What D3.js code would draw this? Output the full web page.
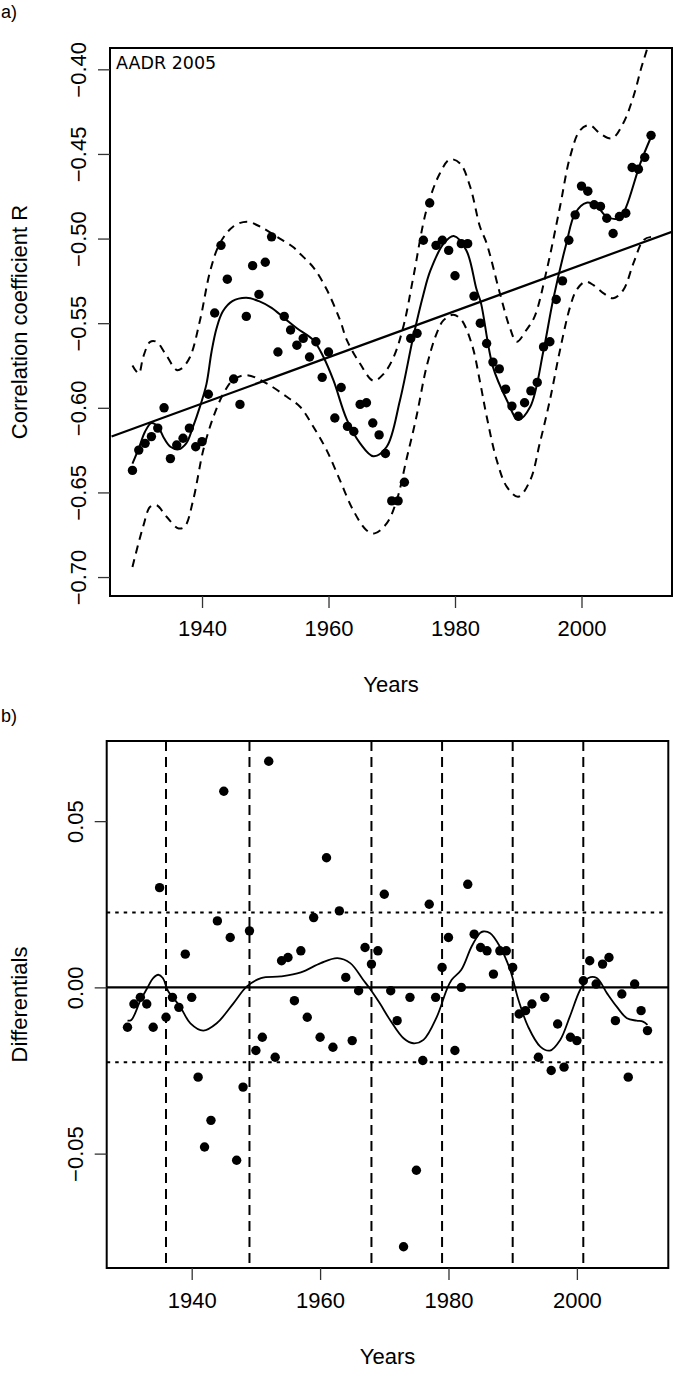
<!DOCTYPE html>
<html lang="en">
<head>
<meta charset="utf-8">
<script src="https://d3js.org/d3.v7.min.js"></script>
<style>
  body { margin: 0; background: #fff; }
  text { fill: #000; }
</style>
</head>
<body>
<script>
let w = 674, h = 1387;

// ---- panel a: correlation coefficient R per year (1929-2011)
let firstYearA = 1929;
let valuesA = [
  -0.637, -0.625, -0.621, -0.617, -0.612, -0.600, -0.630, -0.622, -0.618, -0.612,
  -0.623, -0.620, -0.592, -0.544, -0.504, -0.524, -0.583, -0.598, -0.546, -0.516,
  -0.533, -0.514, -0.499, -0.567, -0.546, -0.554, -0.563, -0.559, -0.570, -0.561,
  -0.582, -0.567, -0.606, -0.588, -0.611, -0.614, -0.598, -0.597, -0.609, -0.616,
  -0.627, -0.655, -0.655, -0.644, -0.559, -0.556, -0.501, -0.479, -0.504, -0.501,
  -0.507, -0.522, -0.503, -0.503, -0.534, -0.550, -0.562, -0.573, -0.577, -0.589,
  -0.599, -0.605, -0.597, -0.590, -0.585, -0.564, -0.561, -0.536, -0.525, -0.501,
  -0.486, -0.469, -0.472, -0.480, -0.481, -0.488, -0.497, -0.487, -0.485, -0.458,
  -0.459, -0.452, -0.439
];
let yearsA = valuesA.map((d, i) => firstYearA + i);

// smooth fit and its band
let fitYearsA = [1929, 1930, 1931, 1932, 1933, 1934, 1935, 1936.3, 1937.5, 1938.5, 1939.7, 1940.7, 1941.5, 1942.3, 1943.3, 1944.8, 1947, 1949, 1951, 1953, 1955, 1957.6, 1959.2, 1960.8, 1962.9, 1965, 1967.1, 1969.2, 1971.3, 1973.4, 1975, 1976.1, 1978.2, 1979.8, 1981.8, 1983.4, 1984.1, 1986, 1988.2, 1990, 1991.9, 1994, 1995.5, 1997.6, 1999, 2000.8, 2002.4, 2004, 2006.1, 2007.1, 2009.3, 2011];
let fitValuesA = [-0.633, -0.624, -0.614, -0.609, -0.611, -0.618, -0.623, -0.6245, -0.621, -0.612, -0.599, -0.586, -0.567, -0.553, -0.543, -0.537, -0.535, -0.537, -0.541, -0.547, -0.553, -0.560, -0.570, -0.584, -0.607, -0.621, -0.6286, -0.623, -0.5955, -0.558, -0.533, -0.519, -0.503, -0.4985, -0.507, -0.530, -0.538, -0.5758, -0.5955, -0.607, -0.5994, -0.566, -0.5364, -0.503, -0.485, -0.4788, -0.4808, -0.487, -0.488, -0.481, -0.4556, -0.440];

let upperYearsA = [1929, 1930, 1930.7, 1931.8, 1932.8, 1934.2, 1936, 1936.8, 1938.1, 1939.7, 1941.3, 1942.8, 1944.9, 1947.1, 1949.2, 1952.3, 1954.4, 1955.5, 1957.6, 1959.7, 1961.8, 1962.9, 1965, 1967.1, 1968.7, 1970.3, 1971.9, 1973.4, 1975.5, 1977.6, 1979.2, 1980.8, 1982.4, 1983.95, 1985, 1987.1, 1988.7, 1989.75, 1991.3, 1992.6, 1994.5, 1996.6, 1998.2, 1999.8, 2001.3, 2002.9, 2004.8, 2006.6, 2008.2, 2009.5, 2010.4, 2011];
let upperValuesA = [-0.575, -0.5797, -0.570, -0.561, -0.561, -0.568, -0.5777, -0.5767, -0.570, -0.548, -0.519, -0.503, -0.493, -0.490, -0.493, -0.500, -0.505, -0.509, -0.517, -0.530, -0.548, -0.560, -0.574, -0.584, -0.580, -0.570, -0.551, -0.523, -0.483, -0.4615, -0.4532, -0.4556, -0.4694, -0.493, -0.5028, -0.5324, -0.553, -0.561, -0.554, -0.546, -0.5186, -0.4812, -0.4516, -0.4359, -0.433, -0.4378, -0.4408, -0.4319, -0.4162, -0.3985, -0.3876, -0.378];

let lowerYearsA = [1929, 1930.7, 1931.8, 1932.8, 1934.4, 1936.3, 1937.3, 1938.6, 1940.2, 1941.8, 1943.4, 1944.9, 1947.1, 1950.2, 1953.4, 1955.5, 1957.6, 1959.7, 1961.8, 1963.9, 1966, 1967.3, 1969.2, 1970.8, 1972.3, 1973.9, 1975.5, 1977.1, 1978.2, 1979.7, 1981, 1982.7, 1983.95, 1985, 1986.6, 1988.2, 1990, 1991.9, 1993.4, 1995, 1996.6, 1998.2, 1999.2, 2000.6, 2001.9, 2003.5, 2005, 2006.6, 2008.2, 2009.8, 2011];
let lowerValuesA = [-0.694, -0.670, -0.6585, -0.6575, -0.6644, -0.6713, -0.670, -0.6545, -0.625, -0.6053, -0.5915, -0.5836, -0.5807, -0.5856, -0.5935, -0.5994, -0.6112, -0.625, -0.6427, -0.6605, -0.6723, -0.6742, -0.6683, -0.6545, -0.6309, -0.6053, -0.5758, -0.556, -0.5482, -0.545, -0.548, -0.563, -0.5846, -0.605, -0.631, -0.6467, -0.6526, -0.6427, -0.621, -0.5955, -0.5659, -0.5403, -0.5305, -0.5255, -0.5275, -0.5324, -0.5353, -0.5305, -0.5147, -0.5009, -0.499];

// linear trend (value at two years)
let trendYears = [1925.7, 2014.3];
let trendValues = [-0.617, -0.496];

let yTicksA = [-0.70, -0.65, -0.60, -0.55, -0.50, -0.45, -0.40];
let xTicks = [1940, 1960, 1980, 2000];

// ---- panel b: differentials (1930-2011)
let firstYearB = 1930;
let valuesB = [
  -0.012, -0.005, -0.003, -0.005, -0.012, 0.030, -0.009, -0.003, -0.006, 0.010,
  -0.003, -0.027, -0.048, -0.040, 0.020, 0.059, 0.015, -0.052, -0.030, 0.017,
  -0.019, -0.015, 0.068, -0.021, 0.008, 0.009, -0.004, 0.011, -0.009, 0.021,
  -0.015, 0.039, -0.018, 0.023, 0.003, -0.016, -0.001, 0.012, 0.007, 0.011,
  0.028, -0.001, -0.010, -0.078, -0.003, -0.055, -0.022, 0.025, -0.003, 0.006,
  0.015, -0.019, 0.000, 0.031, 0.016, 0.012, 0.011, 0.004, 0.011, 0.011,
  0.006, -0.008, -0.007, -0.005, -0.021, -0.003, -0.025, -0.011, -0.024, -0.015,
  -0.016, 0.002, 0.008, 0.001, 0.007, 0.009, -0.010, -0.002, -0.027, 0.001,
  -0.007, -0.013
];
let yearsB = valuesB.map((d, i) => firstYearB + i);

let fitYearsB = [1930, 1930.6, 1932, 1933, 1934, 1934.8, 1935.5, 1936.3, 1938.2, 1939.8, 1941.8, 1943.9, 1946.5, 1948.6, 1950.8, 1953.9, 1957, 1960.1, 1962.7, 1964.7, 1966.7, 1967.8, 1969.3, 1970.9, 1973, 1974.5, 1976.1, 1978.2, 1979.7, 1980.5, 1982, 1983.6, 1984.9, 1985.4, 1986.5, 1988, 1989.6, 1990.9, 1992.4, 1994.3, 1995.8, 1997.4, 1998.9, 2000.5, 2001.8, 2003.1, 2004.7, 2006.2, 2007.8, 2009.3, 2010.3, 2011];
let fitValuesB = [-0.010, -0.0098, -0.004, -0.0005, 0.0028, 0.0038, 0.0028, -0.001, -0.0058, -0.0108, -0.013, -0.0108, -0.0048, 0.0003, 0.0028, 0.0033, 0.0045, 0.0073, 0.0088, 0.0073, 0.0023, -0.0005, -0.0048, -0.0098, -0.0153, -0.0168, -0.0158, -0.0088, -0.0008, 0.0023, 0.0053, 0.0123, 0.0163, 0.0168, 0.0163, 0.0123, 0.0053, -0.0038, -0.0118, -0.0178, -0.019, -0.0158, -0.0088, -0.0008, 0.0028, 0.0028, -0.0018, -0.0058, -0.0093, -0.010, -0.0103, -0.0113];

let breakYears = [1936, 1949, 1968, 1979, 1990, 2001];
let limitB = 0.0225;
let yTicksB = [-0.05, 0.00, 0.05];

// ---- layout
let boxA = {left: 110, right: 672, top: 48, bottom: 596};
let boxB = {left: 106.7, right: 668.3, top: 741, bottom: 1268};

let svg = d3.select("body").append("svg")
  .attr("width", w)
  .attr("height", h)
  .style("font-family", "'Liberation Sans', Arial, sans-serif");

let xA = d3.scaleLinear().domain([1925.45, 2014.31]).range([boxA.left, boxA.right]);
let yA = d3.scaleLinear().domain([-0.7112, -0.3874]).range([boxA.bottom, boxA.top]);

let xB = d3.scaleLinear().domain([1926.76, 2014.24]).range([boxB.left, boxB.right]);
let yB = d3.scaleLinear().domain([-0.0844, 0.0741]).range([boxB.bottom, boxB.top]);

function drawAxes(g, x, y, box, yTicks, yFmt, yTitle) {
  // x axis
  let ax = g.append("g")
    .attr("transform", "translate(0," + box.bottom + ")")
    .call(d3.axisBottom(x).tickValues(xTicks).tickFormat(d3.format("d")).tickSize(12).tickPadding(12));
  ax.select(".domain").remove();
  ax.selectAll("line").attr("stroke", "#333").attr("stroke-width", 1.3);
  ax.selectAll("text").attr("font-size", 22).attr("fill", "#000");

  // y axis with rotated labels
  let ay = g.append("g")
    .attr("transform", "translate(" + box.left + ",0)")
    .call(d3.axisLeft(y).tickValues(yTicks).tickFormat(yFmt).tickSize(12));
  ay.select(".domain").remove();
  ay.selectAll("line").attr("stroke", "#333").attr("stroke-width", 1.3);
  ay.selectAll("text")
    .attr("font-size", 22)
    .attr("fill", "#000")
    .attr("text-anchor", "middle")
    .attr("dy", null)
    .attr("x", null)
    .attr("transform", "translate(-24,0) rotate(-90)");

  g.append("text")
    .attr("x", (box.left + box.right) / 2)
    .attr("y", box.bottom + 96)
    .attr("text-anchor", "middle")
    .attr("font-size", 22)
    .text("Years");

  g.append("text")
    .attr("transform", "translate(27," + (box.top + box.bottom) / 2 + ") rotate(-90)")
    .attr("text-anchor", "middle")
    .attr("font-size", 22)
    .text(yTitle);
}

function drawBox(g, box) {
  g.append("rect")
    .attr("x", box.left).attr("y", box.top)
    .attr("width", box.right - box.left).attr("height", box.bottom - box.top)
    .attr("fill", "none").attr("stroke", "#000").attr("stroke-width", 2);
}

// ================= panel a
let gA = svg.append("g");
svg.append("clipPath").attr("id", "clipA").append("rect")
  .attr("x", boxA.left).attr("y", boxA.top)
  .attr("width", boxA.right - boxA.left).attr("height", boxA.bottom - boxA.top);

let plotA = gA.append("g").attr("clip-path", "url(#clipA)");

let lineA = d3.line().x(d => xA(d[0])).y(d => yA(d[1])).curve(d3.curveCatmullRom.alpha(0.5));

plotA.append("path")
  .datum(d3.zip(upperYearsA, upperValuesA))
  .attr("d", lineA).attr("fill", "none").attr("stroke", "#000")
  .attr("stroke-width", 2).attr("stroke-dasharray", "8,6");
plotA.append("path")
  .datum(d3.zip(lowerYearsA, lowerValuesA))
  .attr("d", lineA).attr("fill", "none").attr("stroke", "#000")
  .attr("stroke-width", 2).attr("stroke-dasharray", "8,6");
plotA.append("path")
  .datum(d3.zip(fitYearsA, fitValuesA))
  .attr("d", lineA).attr("fill", "none").attr("stroke", "#000")
  .attr("stroke-width", 2);
plotA.append("path")
  .datum(d3.zip(trendYears, trendValues))
  .attr("d", d3.line().x(d => xA(d[0])).y(d => yA(d[1])))
  .attr("fill", "none").attr("stroke", "#000").attr("stroke-width", 2.2);

plotA.selectAll("circle")
  .data(d3.zip(yearsA, valuesA))
  .join("circle")
    .attr("cx", d => xA(d[0]))
    .attr("cy", d => yA(d[1]))
    .attr("r", 4.7)
    .attr("fill", "#000");

drawBox(gA, boxA);
drawAxes(gA, xA, yA, boxA, yTicksA, d3.format(".2f"), "Correlation coefficient R");

gA.append("text")
  .attr("x", 116).attr("y", 69)
  .attr("font-family", "'DejaVu Sans', sans-serif")
  .attr("font-size", 17.5)
  .text("AADR 2005");

svg.append("text").attr("x", 1).attr("y", 18).attr("font-size", 18).text("a)");

// ================= panel b
let gB = svg.append("g");
svg.append("clipPath").attr("id", "clipB").append("rect")
  .attr("x", boxB.left).attr("y", boxB.top)
  .attr("width", boxB.right - boxB.left).attr("height", boxB.bottom - boxB.top);
let plotB = gB.append("g").attr("clip-path", "url(#clipB)");

plotB.selectAll("line.brk")
  .data(breakYears)
  .join("line")
    .attr("class", "brk")
    .attr("x1", d => xB(d)).attr("x2", d => xB(d))
    .attr("y1", boxB.top).attr("y2", boxB.bottom)
    .attr("stroke", "#000").attr("stroke-width", 2).attr("stroke-dasharray", "10,6");

plotB.selectAll("line.lim")
  .data([limitB, -limitB])
  .join("line")
    .attr("class", "lim")
    .attr("x1", boxB.left).attr("x2", boxB.right)
    .attr("y1", d => yB(d)).attr("y2", d => yB(d))
    .attr("stroke", "#000").attr("stroke-width", 2).attr("stroke-dasharray", "3.5,5");

plotB.append("line")
  .attr("x1", boxB.left).attr("x2", boxB.right)
  .attr("y1", yB(0)).attr("y2", yB(0))
  .attr("stroke", "#000").attr("stroke-width", 2.2);

plotB.append("path")
  .datum(d3.zip(fitYearsB, fitValuesB))
  .attr("d", d3.line().x(d => xB(d[0])).y(d => yB(d[1])).curve(d3.curveCatmullRom.alpha(0.5)))
  .attr("fill", "none").attr("stroke", "#000").attr("stroke-width", 1.8);

plotB.selectAll("circle")
  .data(d3.zip(yearsB, valuesB))
  .join("circle")
    .attr("cx", d => xB(d[0]))
    .attr("cy", d => yB(d[1]))
    .attr("r", 4.7)
    .attr("fill", "#000");

drawBox(gB, boxB);
drawAxes(gB, xB, yB, boxB, yTicksB, d3.format(".2f"), "Differentials");

svg.append("text").attr("x", 1).attr("y", 722).attr("font-size", 18).text("b)");
</script>
</body>
</html>
